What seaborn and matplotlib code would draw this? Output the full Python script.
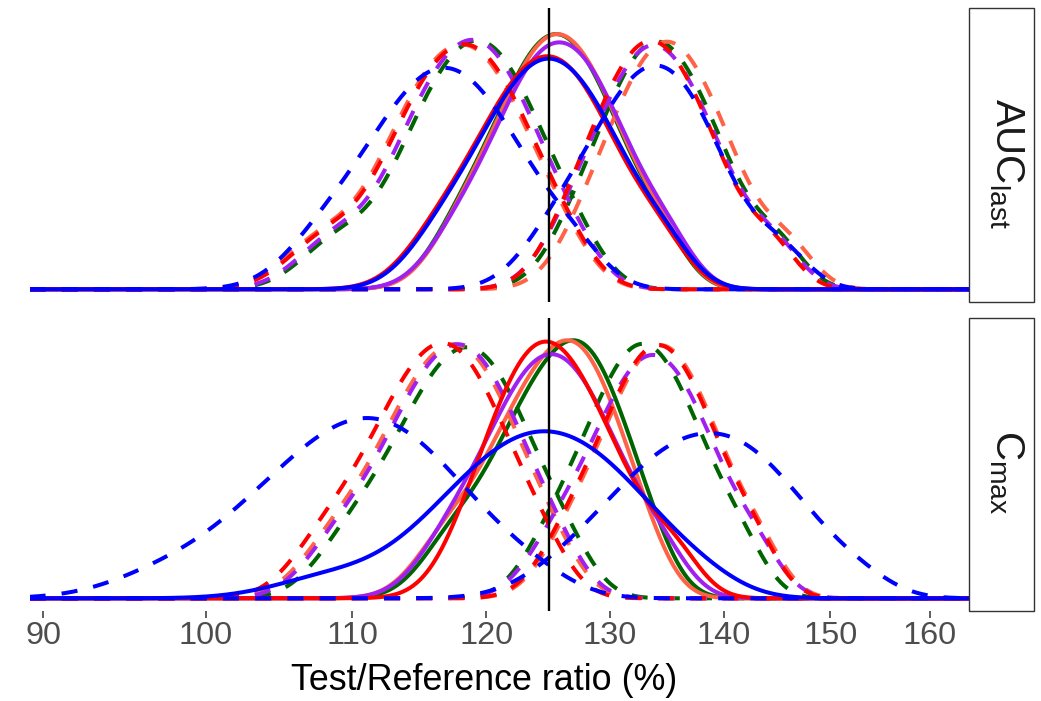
import matplotlib
matplotlib.use("Agg")
import matplotlib.pyplot as plt
from matplotlib.patches import Rectangle
from matplotlib.ticker import FixedLocator, FixedFormatter, NullLocator
import pandas as pd
import seaborn as sns

# Simulated Test/Reference ratios (%): point estimate and 90% CI bounds,
# five scenarios (s1..s5) for each PK parameter.
auc_pt_s1 = [117.7, 120.3, 121.9, 123.1, 124.2, 125.2, 126.2, 127.2, 128.4, 129.7, 131.3, 134.3]
auc_pt_s2 = [117.8, 120.4, 122.0, 123.2, 124.3, 125.3, 126.3, 127.3, 128.5, 129.8, 131.4, 134.4]
auc_pt_s3 = [117.7, 120.5, 122.1, 123.3, 124.4, 125.4, 126.6, 127.6, 128.7, 130.1, 131.8, 134.9]
auc_pt_s4 = [116.1, 119.0, 120.7, 122.1, 123.2, 124.4, 125.5, 126.6, 127.8, 129.2, 131.1, 134.3]
auc_pt_s5 = [116.3, 119.2, 120.9, 122.2, 123.5, 124.5, 125.7, 126.8, 128.1, 129.5, 131.3, 134.6]

auc_lo_s1 = [108.8, 113.2, 114.9, 116.3, 117.4, 118.5, 119.5, 120.6, 121.6, 122.8, 124.4, 127.0]
auc_lo_s2 = [107.6, 111.9, 113.7, 115.0, 116.2, 117.3, 118.3, 119.4, 120.5, 121.7, 123.2, 125.9]
auc_lo_s3 = [108.5, 112.8, 114.5, 115.9, 117.0, 118.1, 119.1, 120.2, 121.2, 122.4, 123.9, 126.6]
auc_lo_s4 = [107.8, 112.1, 113.9, 115.2, 116.4, 117.5, 118.5, 119.6, 120.7, 121.9, 123.4, 126.1]
auc_lo_s5 = [107.7, 110.7, 112.5, 113.9, 115.2, 116.4, 117.4, 118.7, 120.0, 121.5, 123.4, 126.8]

auc_hi_s1 = [127.0, 129.4, 130.8, 132.0, 133.1, 134.0, 135.1, 136.2, 137.4, 138.9, 140.8, 144.9]
auc_hi_s2 = [127.8, 130.2, 131.6, 132.8, 133.9, 134.9, 135.9, 137.0, 138.2, 139.7, 141.6, 145.8]
auc_hi_s3 = [126.5, 128.9, 130.4, 131.6, 132.7, 133.7, 134.8, 135.8, 137.1, 138.6, 140.5, 144.6]
auc_hi_s4 = [126.5, 128.8, 130.2, 131.4, 132.5, 133.5, 134.5, 135.6, 136.8, 138.3, 140.1, 144.2]
auc_hi_s5 = [125.0, 127.9, 129.7, 131.1, 132.3, 133.5, 134.6, 135.8, 137.0, 138.5, 140.4, 145.0]

cmax_pt_s1 = [117.1, 120.2, 122.0, 123.4, 124.6, 125.7, 126.8, 127.7, 128.7, 129.8, 131.1, 133.3]
cmax_pt_s2 = [116.6, 119.7, 121.5, 122.9, 124.1, 125.2, 126.3, 127.2, 128.2, 129.3, 130.6, 132.8]
cmax_pt_s3 = [116.9, 119.7, 121.3, 122.6, 123.7, 124.8, 125.8, 126.9, 128.1, 129.4, 131.2, 134.3]
cmax_pt_s4 = [118.6, 120.7, 121.9, 123.0, 124.0, 125.0, 126.0, 127.1, 128.3, 129.8, 131.8, 135.4]
cmax_pt_s5 = [108.0, 113.8, 116.1, 117.8, 119.1, 120.2, 121.2, 122.2, 123.2, 124.0,
              125.0, 125.9, 126.9, 127.9, 128.9, 130.0, 131.3, 132.7, 134.7, 138.0]

cmax_lo_s1 = [109.5, 112.4, 114.1, 115.5, 116.6, 117.7, 118.7, 119.8, 120.8, 122.0, 123.6, 126.2]
cmax_lo_s2 = [108.5, 111.5, 113.2, 114.5, 115.7, 116.7, 117.7, 118.8, 119.8, 121.0, 122.5, 125.1]
cmax_lo_s3 = [108.8, 111.8, 113.5, 114.8, 116.0, 117.0, 118.0, 119.1, 120.1, 121.3, 122.8, 125.4]
cmax_lo_s4 = [107.8, 110.7, 112.4, 113.7, 114.9, 115.9, 116.9, 117.9, 119.0, 120.2, 121.7, 124.3]
cmax_lo_s5 = [97.0, 101.0, 102.8, 104.4, 105.6, 106.9, 107.8, 108.7, 109.6, 110.5,
              111.3, 112.1, 113.0, 113.9, 114.9, 115.8, 117.2, 118.6, 120.5, 123.8]

cmax_hi_s1 = [125.0, 127.6, 129.2, 130.4, 131.5, 132.5, 133.5, 134.5, 135.7, 137.0, 138.7, 141.6]
cmax_hi_s2 = [126.4, 129.1, 130.6, 131.9, 133.0, 134.0, 135.0, 136.0, 137.2, 138.5, 140.2, 143.2]
cmax_hi_s3 = [125.3, 128.1, 129.8, 131.1, 132.2, 133.3, 134.3, 135.4, 136.6, 137.9, 139.7, 142.9]
cmax_hi_s4 = [126.2, 128.9, 130.4, 131.7, 132.8, 133.8, 134.8, 135.8, 137.0, 138.3, 140.0, 142.9]
cmax_hi_s5 = [125.7, 128.7, 130.5, 131.8, 133.2, 134.3, 135.3, 136.2, 137.3, 138.2,
              139.3, 140.2, 141.2, 142.1, 143.2, 144.3, 145.6, 147.1, 149.2, 152.8]

x_ticks = [90, 100, 110, 120, 130, 140, 150, 160]
x_tick_labels = ["90", "100", "110", "120", "130", "140", "150", "160"]
bound_line = 125
x_label = "Test/Reference ratio (%)"

series = {
    ("AUClast", "point", "s1"): auc_pt_s1, ("AUClast", "point", "s2"): auc_pt_s2,
    ("AUClast", "point", "s3"): auc_pt_s3, ("AUClast", "point", "s4"): auc_pt_s4,
    ("AUClast", "point", "s5"): auc_pt_s5,
    ("AUClast", "lower", "s1"): auc_lo_s1, ("AUClast", "lower", "s2"): auc_lo_s2,
    ("AUClast", "lower", "s3"): auc_lo_s3, ("AUClast", "lower", "s4"): auc_lo_s4,
    ("AUClast", "lower", "s5"): auc_lo_s5,
    ("AUClast", "upper", "s1"): auc_hi_s1, ("AUClast", "upper", "s2"): auc_hi_s2,
    ("AUClast", "upper", "s3"): auc_hi_s3, ("AUClast", "upper", "s4"): auc_hi_s4,
    ("AUClast", "upper", "s5"): auc_hi_s5,
    ("Cmax", "point", "s1"): cmax_pt_s1, ("Cmax", "point", "s2"): cmax_pt_s2,
    ("Cmax", "point", "s3"): cmax_pt_s3, ("Cmax", "point", "s4"): cmax_pt_s4,
    ("Cmax", "point", "s5"): cmax_pt_s5,
    ("Cmax", "lower", "s1"): cmax_lo_s1, ("Cmax", "lower", "s2"): cmax_lo_s2,
    ("Cmax", "lower", "s3"): cmax_lo_s3, ("Cmax", "lower", "s4"): cmax_lo_s4,
    ("Cmax", "lower", "s5"): cmax_lo_s5,
    ("Cmax", "upper", "s1"): cmax_hi_s1, ("Cmax", "upper", "s2"): cmax_hi_s2,
    ("Cmax", "upper", "s3"): cmax_hi_s3, ("Cmax", "upper", "s4"): cmax_hi_s4,
    ("Cmax", "upper", "s5"): cmax_hi_s5,
}
records = [
    {"parameter": p, "statistic": st, "scenario": sc, "ratio": v}
    for (p, st, sc), vals in series.items() for v in vals
]
df = pd.DataFrame(records)

# ---- styling ----
sns.set_theme(style="white")
plt.rcParams["font.family"] = ["Liberation Sans", "DejaVu Sans"]
plt.rcParams["mathtext.fontset"] = "custom"
plt.rcParams["mathtext.rm"] = "Liberation Sans"

colors = {"s1": "#006400", "s2": "#FF6347", "s3": "#A020F0", "s4": "#FF0000", "s5": "#0000FF"}
linestyles = {"lower": (0, (4, 4)), "upper": (0, (4, 4)), "point": "-"}
strip_text = {"AUClast": r"$\mathregular{AUC_{last}}$", "Cmax": r"$\mathregular{C_{max}}$"}

W, H = 1041, 701
fig = plt.figure(figsize=(W / 100, H / 100), dpi=100)


def px_rect(x0, y0, x1, y1):
    return [x0 / W, 1 - y1 / H, (x1 - x0) / W, (y1 - y0) / H]


panel_rows = {"AUClast": (8.3, 302.0), "Cmax": (317.7, 611.0)}
x_left, x_right = 30.0, 968.7
strip_right = 1033.7

for i, (param, (top, bottom)) in enumerate(panel_rows.items()):
    ax = fig.add_axes(px_rect(x_left, top, x_right, bottom))
    for sc in ["s1", "s2", "s3", "s4", "s5"]:
        for st in ["lower", "upper", "point"]:
            sub = df[(df.parameter == param) & (df.statistic == st) & (df.scenario == sc)]
            sns.kdeplot(data=sub, x="ratio", ax=ax, bw_method=0.5, cut=60,
                        clip=(80, 180), gridsize=3000, color=colors[sc],
                        linewidth=2.9, linestyle=linestyles[st])
    ax.axvline(bound_line, color="black", linewidth=1.7, zorder=20)
    ax.set_xscale("log")
    ax.set_xlim(89.23, 164.1)
    ax.set_ylim(-0.00372, 0.0822)
    ax.set_xlabel("")
    ax.set_ylabel("")
    for s in ax.spines.values():
        s.set_visible(False)
    ax.yaxis.set_major_locator(NullLocator())
    ax.yaxis.set_minor_locator(NullLocator())
    ax.xaxis.set_major_locator(FixedLocator(x_ticks))
    ax.xaxis.set_minor_locator(NullLocator())
    ax.xaxis.set_major_formatter(FixedFormatter(x_tick_labels))
    if i == 0:
        ax.tick_params(axis="x", bottom=False, labelbottom=False)
    else:
        ax.tick_params(axis="x", bottom=True, labelbottom=True, length=5,
                       width=1.1, color="#333333", labelsize=23.4,
                       labelcolor="#4D4D4D", pad=2)

    # facet strip on the right
    fig.add_artist(Rectangle((x_right / W, 1 - bottom / H),
                             (strip_right - x_right) / W, (bottom - top) / H,
                             transform=fig.transFigure, facecolor="white",
                             edgecolor="#333333", linewidth=1.0))
    fig.text(1006 / W, 1 - ((top + bottom) / 2 + 8) / H, strip_text[param],
             rotation=270, ha="center", va="center", fontsize=29, color="#1A1A1A")

fig.text(484 / W, 1 - 690 / H, x_label, ha="center", va="baseline",
         fontsize=25.8, color="black")

fig.savefig("out.png", dpi=100)
